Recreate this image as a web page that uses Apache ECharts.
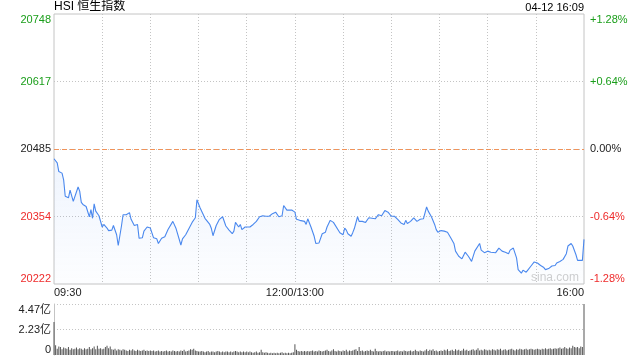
<!DOCTYPE html>
<html><head><meta charset="utf-8">
<script src="https://cdn.jsdelivr.net/npm/echarts@6/dist/echarts.min.js"></script>
<style>html,body{margin:0;padding:0;background:#fff}#c{width:640px;height:360px}</style>
</head><body><div id="c"></div>
<script>
const prevClose = 20485;
const priceTicks = ['20222', '20354', '20485', '20617', '20748'];
const pctTicks = ['-1.28%', '-0.64%', '0.00%', '+0.64%', '+1.28%'];
const volTicks = ['0', '2.23亿', '4.47亿'];
const xTickLabels = ['09:30', '12:00/13:00', '16:00'];

const priceTimes = [
'09:30','09:32','09:33','09:34','09:35','09:36','09:37','09:39','09:40','09:41','09:42','09:43','09:45','09:46','09:47','09:48','09:50','09:52','09:53','09:54','09:55','09:56','09:58','09:59',
'10:00','10:01','10:03','10:04','10:06','10:07','10:09','10:10','10:12','10:13','10:15','10:17','10:18','10:19','10:20','10:22','10:23','10:25','10:26','10:28','10:30','10:32','10:34','10:35','10:37','10:39','10:41','10:44','10:46','10:49','10:50','10:52','10:56','10:58','10:59',
'11:00','11:01','11:02','11:04','11:05','11:07','11:08','11:09','11:11','11:13','11:15','11:17','11:19','11:21','11:22','11:23','11:25','11:26','11:27','11:29','11:30','11:32','11:34','11:36','11:38','11:40','11:42','11:44','11:46','11:48','11:50','11:52','11:53','11:55','11:56','11:58','12:00',
'13:01','13:03','13:06','13:07','13:08','13:10','13:12','13:13','13:15','13:17','13:19','13:20','13:22','13:24','13:25','13:28','13:30','13:31','13:32','13:33','13:35','13:36','13:37','13:39','13:40','13:42','13:44','13:46','13:47','13:50','13:52','13:54','13:56','13:58',
'14:00','14:02','14:04','14:06','14:08','14:09','14:10','14:12','14:13','14:14','14:16','14:18','14:20','14:22','14:23','14:25','14:27','14:28','14:29','14:31','14:33','14:35','14:37','14:39','14:40','14:42','14:44','14:46','14:48','14:50','14:52','14:55','14:56','14:58',
'15:00','15:02','15:05','15:07','15:09','15:11','15:13','15:14','15:16','15:18','15:19','15:21','15:22','15:24','15:25','15:27','15:29','15:31','15:33','15:35','15:36','15:38','15:40','15:42','15:43','15:45','15:47','15:49','15:50','15:52','15:53','15:55','15:56','15:59','16:00'
];
const prices = [
20466,20458,20441,20444,20438,20425,20393,20390,20405,20405,20383,20386,20411,20403,20381,20377,20373,20353,20367,20350,20378,20364,20355,20354,
20333,20338,20331,20326,20327,20336,20318,20297,20335,20357,20357,20361,20348,20351,20336,20338,20311,20312,20325,20333,20331,20312,20310,20301,20311,20314,20328,20344,20330,20298,20310,20318,20342,20351,20386,
20383,20370,20367,20350,20348,20338,20330,20316,20336,20348,20353,20335,20327,20320,20325,20342,20333,20338,20328,20333,20335,20333,20338,20344,20353,20355,20354,20354,20359,20362,20353,20355,20375,20366,20363,20366,20362,
20348,20346,20344,20338,20349,20333,20315,20301,20302,20320,20323,20333,20346,20342,20341,20322,20318,20331,20327,20320,20315,20322,20330,20353,20344,20344,20342,20351,20348,20349,20357,20355,20365,20362,
20354,20354,20348,20341,20338,20346,20340,20344,20342,20351,20344,20348,20349,20372,20364,20353,20338,20328,20323,20326,20325,20323,20312,20301,20286,20276,20271,20284,20276,20266,20286,20301,20288,20283,
20286,20284,20283,20292,20286,20284,20281,20288,20292,20273,20250,20243,20249,20245,20249,20257,20265,20263,20258,20254,20250,20252,20257,20258,20263,20266,20270,20281,20296,20301,20296,20279,20268,20268,20309
];
// volume per minute, in 亿
const volumes = [
2.9,0.85,0.55,0.75,0.7,0.5,0.65,0.6,0.55,0.7,
0.45,0.6,0.5,0.55,0.65,0.5,0.6,0.55,0.45,0.6,
0.5,0.55,0.7,0.5,0.6,0.75,0.5,0.8,0.55,0.6,
0.5,0.55,0.7,0.8,0.6,0.75,0.5,0.45,0.55,0.4,
0.5,0.45,0.4,0.5,0.45,0.4,0.35,0.45,0.4,0.5,
0.4,0.35,0.45,0.4,0.35,0.4,0.45,0.35,0.4,0.35,
0.4,0.35,0.4,0.3,0.35,0.4,0.3,0.35,0.3,0.35,
0.4,0.3,0.35,0.3,0.4,0.35,0.3,0.35,0.3,0.4,
0.35,0.45,0.3,0.35,0.4,0.5,0.45,0.55,0.4,0.35,
0.3,0.3,0.35,0.3,0.25,0.3,0.35,0.25,0.3,0.3,
0.25,0.3,0.35,0.3,0.25,0.3,0.25,0.3,0.3,0.25,
0.3,0.25,0.3,0.35,0.3,0.25,0.3,0.25,0.3,0.25,
0.3,0.25,0.3,0.25,0.2,0.25,0.3,0.2,0.25,0.45,
0.25,0.2,0.25,0.2,0.15,0.2,0.15,0.2,0.15,0.2,
0.15,0.2,0.25,0.15,0.2,0.15,0.2,0.15,0.2,0.25,
0.95,
0.45,0.35,0.3,0.35,0.3,0.35,0.3,0.35,0.3,0.35,
0.4,0.3,0.35,0.3,0.4,0.35,0.3,0.35,0.4,0.45,
0.35,0.3,0.4,0.5,0.35,0.3,0.4,0.35,0.3,0.4,
0.35,0.45,0.3,0.4,0.35,0.4,0.45,0.5,0.35,0.7,
0.35,0.4,0.3,0.35,0.4,0.35,0.45,0.35,0.3,0.55,
0.35,0.3,0.35,0.3,0.35,0.4,0.3,0.35,0.3,0.35,
0.35,0.3,0.35,0.4,0.3,0.35,0.3,0.4,0.35,0.3,
0.35,0.4,0.3,0.35,0.45,0.35,0.3,0.4,0.35,0.3,
0.4,0.5,0.35,0.45,0.4,0.5,0.35,0.4,0.3,0.35,
0.4,0.35,0.45,0.4,0.5,0.35,0.4,0.45,0.35,0.5,
0.4,0.45,0.35,0.4,0.55,0.4,0.45,0.35,0.4,0.45,
0.5,0.4,0.45,0.6,0.4,0.45,0.4,0.5,0.45,0.4,
0.45,0.4,0.5,0.45,0.4,0.5,0.45,0.55,0.4,0.45,
0.5,0.4,0.45,0.5,0.55,0.45,0.4,0.5,0.45,0.55,
0.5,0.45,0.5,0.55,0.45,0.5,0.55,0.5,0.45,0.5,
0.55,0.5,0.45,0.55,0.5,0.6,0.5,0.55,0.6,0.5,
0.55,0.6,0.55,0.6,0.65,0.55,0.6,0.7,0.6,0.55,
0.65,0.6,0.8,0.7,0.65,0.7,0.6,0.75,0.7,4.47
];

function hhmm(m) { const h = Math.floor(m / 60), mm = m % 60; return (h < 10 ? '0' : '') + h + ':' + (mm < 10 ? '0' : '') + mm; }
const categories = [];
for (let m = 0; m <= 150; m++) categories.push(hhmm(9 * 60 + 30 + m));
for (let m = 1; m <= 180; m++) categories.push(hhmm(13 * 60 + m));
const xTickIdx = [0, 150, 330];

const GREEN = '#1a9e1a', RED = '#ee2b2b', BLACK = '#222';
const FONT = '"Liberation Sans", Arial, "Noto Sans CJK SC", sans-serif';
const gridColor = '#c4c4c4';
const span = 263, step = 131.5;
function tickIndex(v) { return Math.round(Number(v) / step) + 2; }
function tickColor(v) { v = Number(v); return v > 0.01 ? GREEN : (v < -0.01 ? RED : BLACK); }

const chart = echarts.init(document.getElementById('c'), null, { renderer: 'canvas' });
chart.setOption({
  animation: false,
  textStyle: { fontFamily: FONT },
  title: [
    { text: 'HSI 恒生指数', left: 54, top: 1, padding: 0, textStyle: { fontSize: 12, fontWeight: 'normal', color: '#000', fontFamily: FONT } },
    { text: '04-12 16:09', right: 56, top: 2, padding: 0, textStyle: { fontSize: 11, fontWeight: 'normal', color: '#000', fontFamily: FONT } }
  ],
  graphic: [
    { type: 'text', left: 531, top: 272, silent: true, style: { text: 'sina.com', fontSize: 12, fill: '#cfcfcf', fontFamily: FONT } }
  ],
  grid: [
    { left: 54, right: 56, top: 14, height: 270, show: true, borderColor: gridColor, borderWidth: 1 },
    { left: 54, right: 56, top: 304, height: 51 }
  ],
  xAxis: [
    {
      type: 'category', gridIndex: 0, data: categories, boundaryGap: false,
      axisLine: { show: false }, axisTick: { show: false },
      axisLabel: {
        interval: (i) => xTickIdx.indexOf(i) >= 0,
        formatter: (v, i) => xTickLabels[xTickIdx.indexOf(i)],
        margin: 3, fontSize: 11, color: BLACK, fontFamily: FONT,
        alignMinLabel: 'left', alignMaxLabel: 'right'
      },
      splitLine: { show: true, interval: (i) => i % 30 === 0 && i > 0 && i < 330, lineStyle: { color: gridColor, type: [1, 2], width: 1 } }
    },
    {
      type: 'category', gridIndex: 1, data: categories, boundaryGap: false,
      axisLine: { show: false }, axisTick: { show: false }, axisLabel: { show: false }, splitLine: { show: false }
    }
  ],
  yAxis: [
    {
      type: 'value', gridIndex: 0, min: -span, max: span, interval: step, position: 'left',
      axisLine: { show: false }, axisTick: { show: false },
      axisLabel: {
        formatter: (v) => priceTicks[tickIndex(v)], color: tickColor, fontSize: 11, margin: 3, fontFamily: FONT,
        verticalAlignMinLabel: 'bottom', verticalAlignMaxLabel: 'top'
      },
      splitLine: { show: true, showMinLine: false, showMaxLine: false, lineStyle: { color: gridColor, type: [1, 2] } }
    },
    {
      type: 'value', gridIndex: 0, min: -span, max: span, interval: step, position: 'right',
      axisLine: { show: false }, axisTick: { show: false },
      axisLabel: {
        formatter: (v) => pctTicks[tickIndex(v)], color: tickColor, fontSize: 11, margin: 6, fontFamily: FONT,
        verticalAlignMinLabel: 'bottom', verticalAlignMaxLabel: 'top'
      },
      splitLine: { show: false }
    },
    {
      type: 'value', gridIndex: 1, min: 0, max: 4.47, interval: 2.235, position: 'left',
      axisLine: { show: true, lineStyle: { color: gridColor } }, axisTick: { show: false },
      axisLabel: {
        formatter: (v) => volTicks[Math.round(Number(v) / 2.235)], color: BLACK, fontSize: 11, margin: 3, fontFamily: FONT,
        verticalAlignMinLabel: 'bottom', verticalAlignMaxLabel: 'top'
      },
      splitLine: { show: true, showMinLine: false, lineStyle: { color: gridColor, type: [1, 2] } }
    }
  ],
  series: [
    {
      type: 'line', xAxisIndex: 0, yAxisIndex: 0,
      data: priceTimes.map((t, i) => [t, prices[i] - prevClose]),
      showSymbol: false, symbol: 'none', smooth: false,
      lineStyle: { color: '#4a88ee', width: 1.1 },
      areaStyle: {
        origin: 'start',
        color: new echarts.graphic.LinearGradient(0, 0, 0, 1, [
          { offset: 0, color: 'rgba(74,136,238,0.13)' },
          { offset: 1, color: 'rgba(74,136,238,0.02)' }
        ])
      },
      markLine: {
        silent: true, symbol: 'none', label: { show: false }, z: 5,
        lineStyle: { color: '#f0935a', type: [5, 3], width: 1, opacity: 1 },
        emphasis: { disabled: true },
        data: [{ yAxis: 0 }]
      }
    },
    {
      type: 'bar', xAxisIndex: 1, yAxisIndex: 2,
      data: volumes, barWidth: 1, itemStyle: { color: '#555' }
    }
  ]
});
</script>
</body></html>
